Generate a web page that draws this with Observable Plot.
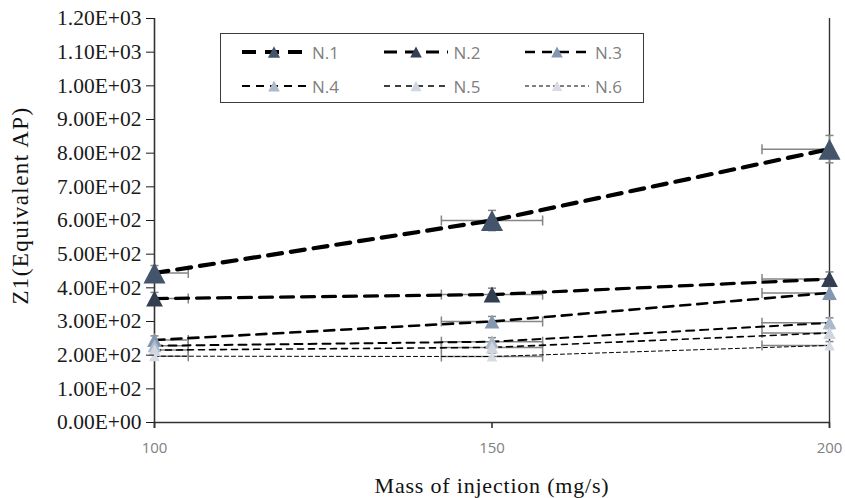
<!DOCTYPE html>
<html>
<head>
<meta charset="utf-8">
<script src="https://cdn.jsdelivr.net/npm/d3@7"></script>
<script src="https://cdn.jsdelivr.net/npm/@observablehq/plot@0.6"></script>
<style>
  body { margin: 0; background: #fff; }
  #wrap { position: relative; width: 845px; height: 498px; overflow: hidden; background: #fff; }
  #legend { position: absolute; left: 220px; top: 33px; width: 424px; height: 70px; box-sizing: border-box;
            border: 1.6px solid #3a3a3a; background: #fff; }
  .entry { position: absolute; display: flex; align-items: center; height: 24px; }
  .entry span { font-family: "Open Sans", sans-serif; font-size: 17px; color: #7f7f7f; margin-left: 6px; }
</style>
</head>
<body>
<div id="wrap"></div>
<script>
// ---- data ----
const seriesNames = ["N.1", "N.2", "N.3", "N.4", "N.5", "N.6"];
const massOfInjection = [100, 150, 200];
const n1 = [444, 600, 812];
const n2 = [368, 380, 426];
const n3 = [245, 300, 385];
const n4 = [228, 240, 296];
const n5 = [215, 223, 266];
const n6 = [197, 196, 229];
const relError = 0.05;
const xTicks = [100, 150, 200];
const yTicks = [0, 100, 200, 300, 400, 500, 600, 700, 800, 900, 1000, 1100, 1200];

// ---- styles ----
const styles = [
  {color: "#44546a", width: 4.2, dash: "14,9", r: 10.5, lr: 5.8},
  {color: "#333f50", width: 3.2, dash: "13,8", r: 8,    lr: 5.5},
  {color: "#8497b0", width: 2.6, dash: "10,7", r: 7,    lr: 5.5},
  {color: "#adb9ca", width: 2.0, dash: "8,6",  r: 6.5,  lr: 5.5},
  {color: "#cfd6e0", width: 1.6, dash: "6,5",  r: 6,    lr: 5.2},
  {color: "#d8dbe3", width: 1.0, dash: "4,3",  r: 5,    lr: 5}
];

const values = [n1, n2, n3, n4, n5, n6];
const rows = [];
values.forEach((vals, i) => vals.forEach((v, j) => rows.push({series: seriesNames[i], i, x: massOfInjection[j], y: v})));
const xMin = d3.min(xTicks), xMax = d3.max(xTicks);
const errRows = rows.map(d => ({...d,
  x1: Math.max(xMin, d.x * (1 - relError)), x2: Math.min(xMax, d.x * (1 + relError)),
  y1: d.y * (1 - relError), y2: d.y * (1 + relError)}));

// custom symbols
const tri = {draw(ctx, size) { const r = Math.sqrt(size / Math.PI); ctx.moveTo(0, -r); ctx.lineTo(r * 1.05, r); ctx.lineTo(-r * 1.05, r); ctx.closePath(); }};
const vbar = {draw(ctx, size) { const r = Math.sqrt(size / Math.PI); ctx.moveTo(0, -r); ctx.lineTo(0, r); }};
const hbar = {draw(ctx, size) { const r = Math.sqrt(size / Math.PI); ctx.moveTo(-r, 0); ctx.lineTo(r, 0); }};

const excelExp = d => {
  const [m, e] = d.toExponential(2).split("e");
  const ex = +e;
  return m + "E" + (ex < 0 ? "-" : "+") + String(Math.abs(ex)).padStart(2, "0");
};

const errColor = "#858585";
const marks = [
  Plot.ruleX([xMin], {stroke: "#333", strokeWidth: 1.6, y1: -18, y2: 1200}),
  Plot.ruleX([xMax], {stroke: "#333", strokeWidth: 1.4, y1: -18, y2: 1200}),
  Plot.ruleY([0], {stroke: "#333", strokeWidth: 1.6}),
  Plot.ruleX(xTicks, {x: d => d, y1: 0, y2: -18, stroke: "#333", strokeWidth: 1.6}),
  Plot.ruleY(errRows, {y: "y", x1: "x1", x2: "x2", stroke: errColor, strokeWidth: 1.5}),
  Plot.dot(errRows, {x: "x1", y: "y", symbol: vbar, r: 5, stroke: errColor, strokeWidth: 1.5}),
  Plot.dot(errRows, {x: "x2", y: "y", symbol: vbar, r: 5, stroke: errColor, strokeWidth: 1.5}),
  Plot.ruleX(errRows, {x: "x", y1: "y1", y2: "y2", stroke: errColor, strokeWidth: 1.5}),
  Plot.dot(errRows, {x: "x", y: "y1", symbol: hbar, r: 4, stroke: errColor, strokeWidth: 1.5}),
  Plot.dot(errRows, {x: "x", y: "y2", symbol: hbar, r: 4, stroke: errColor, strokeWidth: 1.5}),
  ...styles.map((s, i) => Plot.line(rows.filter(d => d.i === i), {x: "x", y: "y", stroke: "#000", strokeWidth: s.width, strokeDasharray: s.dash})),
  ...styles.map((s, i) => Plot.dot(rows.filter(d => d.i === i), {x: "x", y: "y", symbol: tri, r: s.r, fill: s.color, stroke: "none"})),
  Plot.axisY(yTicks, {tickSize: 8, tickPadding: 5, tickFormat: excelExp, fontFamily: "Liberation Serif", fontSize: 21.5, color: "#1a1a1a", label: null}),
  Plot.axisY([], {label: "Z1(Equivalent AP)", labelAnchor: "center", labelArrow: "none", labelOffset: 143, fontFamily: "Liberation Serif", fontSize: 23, color: "#111"}),
  Plot.axisX(xTicks, {tickSize: 0, tickPadding: 20, tickFormat: d => String(d), fontFamily: "Open Sans", fontSize: 15, color: "#808080", label: null}),
  Plot.axisX([], {label: "Mass of injection (mg/s)", labelAnchor: "center", labelArrow: "none", labelOffset: 70, fontFamily: "Liberation Serif", fontSize: 22, color: "#111"})
];

const chart = Plot.plot({
  width: 845, height: 498,
  marginLeft: 154, marginRight: 16, marginTop: 18, marginBottom: 76,
  x: {domain: [xMin, xMax]},
  y: {domain: [0, 1200]},
  style: {background: "#fff", overflow: "visible"},
  marks
});
const wrap = document.getElementById("wrap");
wrap.appendChild(chart);

const sel = d3.select(chart);
sel.selectAll('g[aria-label="y-axis label"]')
  .attr("letter-spacing", "1.4px")
  .each(function () { const t = this.getAttribute("transform") || ""; this.setAttribute("transform", "translate(0,-15) " + t); });
sel.selectAll('g[aria-label="x-axis label"]').attr("letter-spacing", "0.8px");

// ---- legend ----
const legend = d3.select(wrap).append("div").attr("id", "legend");
seriesNames.forEach((name, i) => {
  const s = styles[i];
  const col = i % 3, row = Math.floor(i / 3);
  const e = legend.append("div").attr("class", "entry")
    .style("left", (21 + col * 141.5) + "px").style("top", (6 + row * 34) + "px");
  const svg = e.append("svg").attr("width", 64).attr("height", 24);
  svg.append("line").attr("x1", 0).attr("x2", 64).attr("y1", 12).attr("y2", 12)
    .attr("stroke", "#000").attr("stroke-width", s.width).attr("stroke-dasharray", s.dash);
  const r = s.lr;
  svg.append("path").attr("d", `M32,${12 - r}L${32 + r * 1.05},${12 + r}L${32 - r * 1.05},${12 + r}Z`).attr("fill", s.color);
  e.append("span").text(name);
});
</script>
</body>
</html>
